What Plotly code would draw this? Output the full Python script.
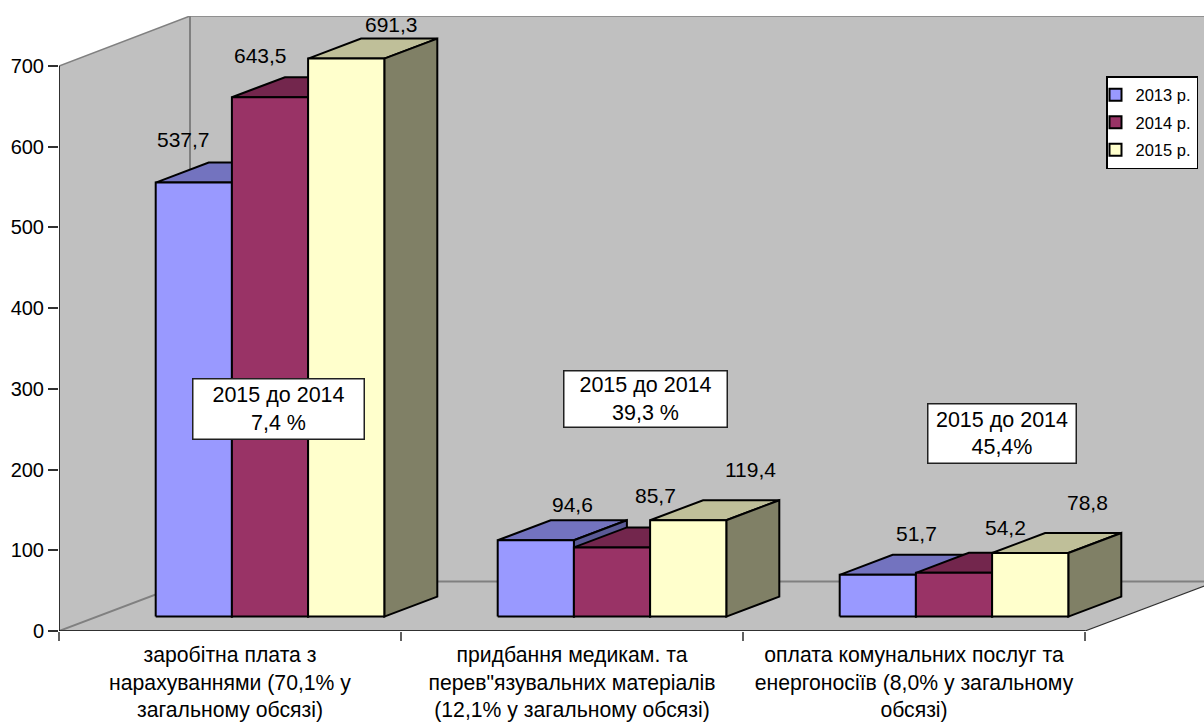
import plotly.graph_objects as go

# ---- data ----
categories = [
    "заробітна плата з<br>нарахуваннями (70,1% у<br>загальному обсязі)",
    "придбання медикам. та<br>перев\"язувальних матеріалів<br>(12,1% у загальному обсязі)",
    "оплата комунальних послуг та<br>енергоносіїв (8,0% у загальному<br>обсязі)",
]
series_names = ["2013 р.", "2014 р.", "2015 р."]
values_2013 = [537.7, 94.6, 51.7]
values_2014 = [643.5, 85.7, 54.2]
values_2015 = [691.3, 119.4, 78.8]
notes = ["2015 до 2014<br>7,4 %", "2015 до 2014<br>39,3 %", "2015 до 2014<br>45,4%"]
y_ticks = [0, 100, 200, 300, 400, 500, 600, 700]

# ---- styles ----
front_colors = ["#9999FF", "#993366", "#FFFFCC"]
top_colors = ["#7373BF", "#73264D", "#BFBF99"]
side_colors = ["#5A5A96", "#4D1A33", "#808066"]
FONT = "Liberation Sans, Arial, sans-serif"
WALL = "#C0C0C0"
EDGE = "#808080"

# ---- layout geometry (page pixels) ----
W, H = 1204, 722
L, R_AXIS, T_700, B = 59, 1085, 66, 631
TOP = 16
PX_PER_CAT = (R_AXIS - L) / 3
PX_PER_UNIT = (B - T_700) / 700


def dx(px):
    return px / PX_PER_CAT


def dy(px):
    return px / PX_PER_UNIT


WALL_DX, WALL_DY = dx(131), dy(49.5)
FRONT_DX, FRONT_DY = dx(40), dy(14.4)
BAR_DX, BAR_DY = dx(53), dy(20)
BAR_W = dx(76.2)
x_max = dx(W - L)
y_max = dy(B - TOP)
y_top = y_max

# label offsets from the top centre of each bar's front face (pixels: right, up)
label_offsets = [
    [(-10, 43.5), (37, 36), (39, 41.6)],
    [(-10, 42), (43, 52), (51, 45.6)],
    [(45, 34.6), (62, 51), (57.5, 50.7)],
]
# note boxes: x0, x1, y0, y1 in pixels
note_boxes = [(192, 364, 378, 439), (563, 727, 370, 427), (927, 1076, 403, 463)]


def poly(xs, ys, fill, line=None, width=0):
    return go.Scatter(
        x=xs, y=ys, mode="lines", fill="toself" if fill else "none",
        fillcolor=fill, line=dict(color=line or "rgba(0,0,0,0)", width=width),
        hoverinfo="skip", showlegend=False,
    )


fig = go.Figure()
all_values = [values_2013, values_2014, values_2015]


def bar_left(cat, s):
    return cat + 0.5 + FRONT_DX + (s - 1.5) * BAR_W


# real bars carry the legend; the polygons above them add the 3-D faces
for s, name in enumerate(series_names):
    fig.add_trace(go.Bar(
        x=[bar_left(c, s) + BAR_W / 2 for c in range(3)], y=all_values[s], base=FRONT_DY,
        width=BAR_W, name=name, legendgroup=name,
        marker=dict(color=front_colors[s], line=dict(color="black", width=2)),
    ))

x_right = 3 + WALL_DX
# walls and floor
fig.add_trace(poly([WALL_DX, x_right, x_right, WALL_DX, WALL_DX],
                   [y_top, y_top, WALL_DY, WALL_DY, y_top], WALL))
fig.add_trace(poly([0, WALL_DX, WALL_DX, 0, 0], [700, y_top, WALL_DY, 0, 700], WALL))
fig.add_trace(poly([0, 3, x_right, WALL_DX, 0], [0, 0, WALL_DY, WALL_DY, 0], WALL))
# wall edges
fig.add_trace(poly([0, WALL_DX, x_right], [700, y_top, y_top], None, EDGE, 1.5))
fig.add_trace(poly([WALL_DX, WALL_DX], [y_top, WALL_DY], None, EDGE, 2))
fig.add_trace(poly([0, WALL_DX, x_right], [0, WALL_DY, WALL_DY], None, EDGE, 2))
fig.add_trace(poly([3, x_right], [0, WALL_DY], None, "#303030", 1.2))
# axis lines
fig.add_trace(poly([0, 3], [0, 0], None, "#303030", 2))
fig.add_trace(poly([0, 0], [0, 700], None, "black", 1.5))

# 3-D bars
for c in range(3):
    for s in range(3):
        v = all_values[s][c]
        x0 = bar_left(c, s)
        x1 = x0 + BAR_W
        y0 = FRONT_DY
        y1 = FRONT_DY + v
        fig.add_trace(poly([x0, x0 + BAR_DX, x1 + BAR_DX, x1, x0],
                           [y1, y1 + BAR_DY, y1 + BAR_DY, y1, y1],
                           top_colors[s], "black", 2))
        fig.add_trace(poly([x1, x1 + BAR_DX, x1 + BAR_DX, x1, x1],
                           [y1, y1 + BAR_DY, y0 + BAR_DY, y0, y1],
                           side_colors[s], "black", 2))
        fig.add_trace(poly([x0, x1, x1, x0, x0], [y0, y0, y1, y1, y0],
                           front_colors[s], "black", 2))

annotations = []
for s in range(3):
    for c in range(3):
        v = all_values[s][c]
        ox, oy = label_offsets[s][c]
        annotations.append(dict(
            x=bar_left(c, s) + BAR_W / 2, y=FRONT_DY + v, xref="x", yref="y",
            text=f"{v:.1f}".replace(".", ","), showarrow=False,
            xshift=ox, yshift=oy, xanchor="center", yanchor="middle",
            font=dict(family=FONT, size=21, color="black"),
        ))
for text, (x0, x1, y0, y1) in zip(notes, note_boxes):
    annotations.append(dict(
        x=dx((x0 + x1) / 2 - L), y=dy(B - (y0 + y1) / 2), xref="x", yref="y",
        text=text, showarrow=False, xanchor="center", yanchor="middle",
        width=x1 - x0 - 2, height=y1 - y0 - 2, borderpad=0, align="center", valign="middle",
        bgcolor="white", bordercolor="#202020", borderwidth=1.5,
        font=dict(family=FONT, size=21.5, color="black"),
    ))

fig.update_layout(
    width=W, height=H, autosize=False,
    margin=dict(l=L, r=0, t=TOP, b=H - B, pad=0, autoexpand=False),
    paper_bgcolor="white", plot_bgcolor="rgba(0,0,0,0)",
    barmode="overlay", bargap=0,
    font=dict(family=FONT, size=21, color="black"),
    annotations=annotations,
    legend=dict(
        x=(1106 - L) / (W - L), y=(B - 76) / (B - TOP), xanchor="left", yanchor="top",
        bgcolor="white", bordercolor="black", borderwidth=1.5,
        font=dict(family=FONT, size=16.5, color="black"),
        traceorder="grouped", tracegroupgap=3, indentation=-12, entrywidth=45,
    ),
    xaxis=dict(
        range=[0, x_max], tickmode="array", tickvals=[0.5, 1.5, 2.5], ticktext=categories,
        ticks="", showgrid=False, zeroline=False, showline=False, automargin=False,
        tickfont=dict(family=FONT, size=21.2, color="black"),
        ticklabelstandoff=9,
        minor=dict(tickmode="array", tickvals=[0, 1, 2, 3], ticks="outside",
                   ticklen=9, tickwidth=1.5, tickcolor="#606060", showgrid=False),
    ),
    yaxis=dict(
        range=[0, y_max], tickmode="array", tickvals=y_ticks, ticks="outside", ticklen=10,
        tickwidth=1.5, tickcolor="#303030", showgrid=False, zeroline=False,
        showline=False, automargin=False,
        tickfont=dict(family=FONT, size=20, color="black"),
    ),
)

fig.write_html("out.html", config={"displayModeBar": False},
               post_script="document.body.style.margin='0';")
